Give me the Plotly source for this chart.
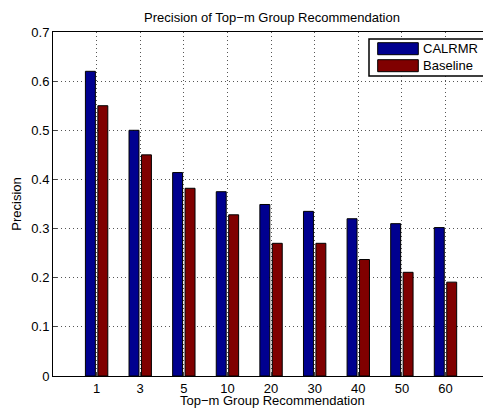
import plotly.graph_objects as go

categories = ["1", "3", "5", "10", "20", "30", "40", "50", "60"]
calrmr = [0.62, 0.50, 0.414, 0.375, 0.349, 0.335, 0.320, 0.310, 0.302]
baseline = [0.55, 0.45, 0.382, 0.328, 0.270, 0.270, 0.237, 0.211, 0.191]
y_ticks = [0, 0.1, 0.2, 0.3, 0.4, 0.5, 0.6, 0.7]
y_tick_labels = ["0", "0.1", "0.2", "0.3", "0.4", "0.5", "0.6", "0.7"]
series_names = ["CALRMR", "Baseline"]
series_colors = ["#00008F", "#800000"]

FONT = "Liberation Sans, Arial, Helvetica, sans-serif"
W, H = 483, 408
ML, MR, MT, MB = 53, 0, 32, 32
PW, PH = W - ML - MR, H - MT - MB

fig = go.Figure()
for name, vals, col in zip(series_names, [calrmr, baseline], series_colors):
    fig.add_trace(go.Bar(x=categories, y=vals, name=name, showlegend=False,
                         marker=dict(color=col, line=dict(color="black", width=1))))

# helpers: figure pixel -> paper (plot-area) coordinates
def px(x):
    return (x - ML) / PW

def py(y):
    return 1 - (y - MT) / PH

# MATLAB-style legend box
shapes = [dict(type="rect", xref="paper", yref="paper", x0=px(369), x1=px(486),
               y0=py(76), y1=py(39), line=dict(color="black", width=1.5),
               fillcolor="white", layer="above")]
annotations = []
for i, (name, col) in enumerate(zip(series_names, series_colors)):
    top = 42.7 + i * 17
    shapes.append(dict(type="rect", xref="paper", yref="paper", x0=px(377.7), x1=px(418.3),
                       y0=py(top + 12), y1=py(top), line=dict(color="black", width=1),
                       fillcolor=col, layer="above"))
    annotations.append(dict(text=name, xref="paper", yref="paper", x=px(421), y=py(top + 6),
                            xanchor="left", yanchor="middle", showarrow=False,
                            font=dict(size=13, family=FONT, color="black")))

# axis titles placed like the MATLAB figure
annotations.append(dict(text="Top\u2212m Group Recommendation", xref="paper", yref="paper",
                        x=px(272), y=py(400.5), xanchor="center", yanchor="middle",
                        showarrow=False, font=dict(size=13, family=FONT, color="black")))

fig.update_layout(
    width=W, height=H,
    margin=dict(l=ML, r=MR, t=MT, b=MB),
    paper_bgcolor="white", plot_bgcolor="white",
    barmode="group", bargap=0.43, bargroupgap=0.2,
    font=dict(family=FONT, size=13, color="black"),
    title=dict(text="Precision of Top\u2212m Group Recommendation", x=px(272), xanchor="center",
               xref="paper",
               y=1 - 17 / H, yanchor="middle", font=dict(size=13)),
    showlegend=False,
    shapes=shapes,
    annotations=annotations,
    xaxis=dict(type="category", range=[-1, 8.86], showline=True, mirror=True,
               linecolor="black", linewidth=1, ticks="inside", ticklen=4,
               showgrid=True, gridcolor="#555555", griddash="1px,3px", gridwidth=1,
               tickfont=dict(size=13), automargin=False),
    yaxis=dict(range=[0, 0.7], tickvals=y_ticks, ticktext=y_tick_labels,
               showline=True, mirror=False, linecolor="black", linewidth=1,
               ticks="inside", ticklen=4, zeroline=False, automargin=False,
               showgrid=True, gridcolor="#555555", griddash="1px,3px", gridwidth=1,
               tickfont=dict(size=13),
               title=dict(text="Precision", standoff=6, font=dict(size=13))),
)

fig.write_html("out.html", config={"displayModeBar": False},
               post_script="document.body.style.margin='0';document.body.style.overflow='hidden';")
